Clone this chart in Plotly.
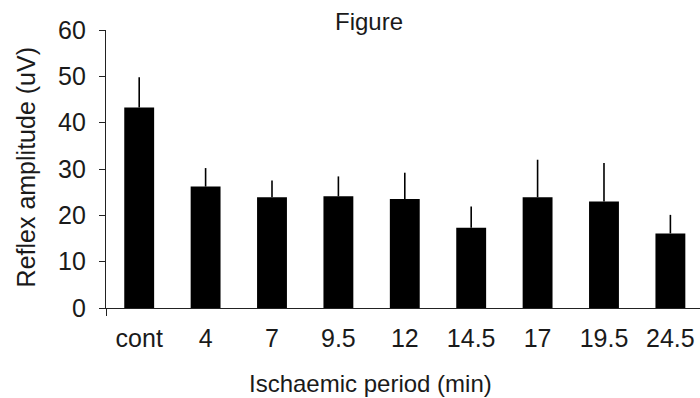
import plotly.graph_objects as go

categories = ["cont", "4", "7", "9.5", "12", "14.5", "17", "19.5", "24.5"]
means = [43.3, 26.2, 23.9, 24.1, 23.5, 17.3, 23.9, 23.0, 16.1]
sem_upper = [6.5, 4.0, 3.6, 4.3, 5.7, 4.6, 8.1, 8.3, 4.0]
y_ticks = [0, 10, 20, 30, 40, 50, 60]

FONT = "Liberation Sans, Arial, Helvetica, sans-serif"
TXT = "#1a1a1a"
LINE = "#222222"

fig = go.Figure()
fig.add_trace(go.Bar(
    x=categories, y=means,
    marker=dict(color="black", line=dict(width=0)),
    error_y=dict(type="data", symmetric=False, array=sem_upper,
                 arrayminus=[0] * len(means), color="black",
                 thickness=1.6, width=0),
    showlegend=False,
))
# helper axis for the small tick at the left end of the x axis
fig.add_trace(go.Scatter(x=[-0.5], y=[0], xaxis="x2", mode="markers",
                         marker=dict(opacity=0), showlegend=False,
                         hoverinfo="skip"))

fig.update_layout(
    width=700, height=398,
    margin=dict(l=106, r=0, t=30, b=90),
    paper_bgcolor="white", plot_bgcolor="white",
    bargap=0.55,
    font=dict(family=FONT, size=25, color=TXT),
    xaxis=dict(type="category", range=[-0.5, 8.446], showline=True,
               linecolor=LINE, linewidth=1.3, ticks="", showgrid=False,
               zeroline=False, ticklabelstandoff=8,
               tickfont=dict(size=25, color=TXT)),
    xaxis2=dict(overlaying="x", range=[-0.5, 8.446], showline=False,
                tickmode="array", tickvals=[-0.5], ticks="outside",
                ticklen=7, tickwidth=1.3, tickcolor=LINE,
                showticklabels=False, showgrid=False, zeroline=False,
                side="bottom", anchor="y"),
    yaxis=dict(range=[0, 60], tickvals=y_ticks, showline=True,
               linecolor=LINE, linewidth=1.3, ticks="outside", ticklen=6,
               tickwidth=1.3, tickcolor=LINE, showgrid=False, zeroline=False,
               ticklabelstandoff=8, tickfont=dict(size=25, color=TXT)),
    annotations=[
        dict(text="Figure", xref="paper", yref="paper", x=0.443, y=1.03,
             xanchor="center", yanchor="middle", showarrow=False,
             font=dict(size=24, color=TXT)),
        dict(text="Ischaemic period (min)", xref="paper", yref="paper",
             x=0.446, y=-0.272, xanchor="center", yanchor="middle",
             showarrow=False, font=dict(size=24, color=TXT)),
        dict(text="Reflex amplitude (uV)", xref="paper", yref="paper",
             x=-0.135, y=0.505, xanchor="center", yanchor="middle",
             textangle=-90, showarrow=False,
             font=dict(size=25, color=TXT)),
    ],
)

fig.write_html("out.html",
               config={"displayModeBar": False},
               post_script="document.body.style.margin='0';"
                           "document.body.style.padding='0';")
